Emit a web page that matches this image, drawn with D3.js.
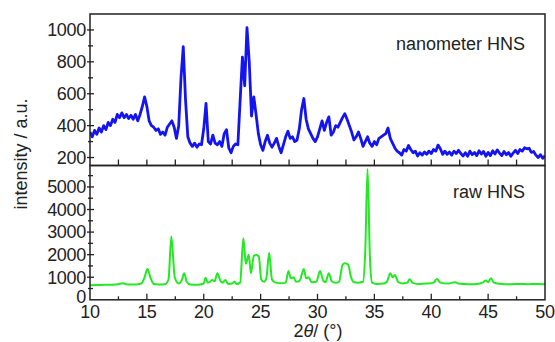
<!DOCTYPE html>
<html>
<head>
<meta charset="utf-8">
<script src="https://cdn.jsdelivr.net/npm/d3@7"></script>
<style>
  body { margin: 0; background: #fff; }
  text { font-family: "Liberation Sans", Arial, sans-serif; fill: #222; }
</style>
</head>
<body>
<script>
// nanometer HNS, sampled every 0.2 deg from 10 to 50
var nanoStart = 10, nanoStep = 0.2;
var nanoIntensity = [
  360, 330, 370, 345, 385, 360, 400, 375, 420, 400,
  440, 420, 470, 450, 480, 450, 470, 445, 465, 440,
  470, 430, 470, 520, 580, 520, 430, 400, 390, 370,
  380, 345, 360, 340, 390, 410, 430, 390, 320, 400,
  700, 895, 560, 330, 290, 270, 290, 265, 285, 280,
  380, 540, 300, 285, 340, 290, 280, 300, 270, 350,
  375, 260, 230, 270, 285, 280, 560, 830, 650, 1015,
  800, 460, 580, 470, 350, 280, 245, 300, 340, 290,
  265, 290, 320, 270, 230, 280, 330, 365, 320, 330,
  300, 310, 380, 500, 570, 440, 380, 350, 320, 300,
  330, 380, 430, 370, 420, 455, 340, 360, 400, 390,
  420, 450, 475, 440, 400, 360, 310, 330, 360, 320,
  270, 300, 330, 290, 270, 300, 280, 320, 330, 340,
  350, 385, 320, 290, 260, 240, 230, 215, 250, 240,
  275, 250, 230, 240, 210, 230, 215, 235, 220, 240,
  225, 250, 240, 278, 255, 220, 240, 220, 235, 215,
  240, 225, 245, 225, 210, 230, 208, 240, 218, 232,
  212, 242, 222, 238, 208, 232, 212, 242, 222, 248,
  228, 212, 238, 218, 232, 208, 228, 245, 225, 250,
  240, 262, 255, 258, 232, 238, 215, 200, 218, 195,
  212
];

// raw HNS
var rawAngle = [
  10.0, 11.0, 12.0, 12.5, 12.9, 13.3, 14.0, 14.5, 14.8, 15.05,
  15.3, 15.6, 16.0, 16.6, 16.9, 17.15, 17.45, 17.8, 18.1, 18.28,
  18.5, 18.8, 19.5, 20.0, 20.15, 20.35, 20.55, 20.75, 20.95, 21.2,
  21.45, 21.65, 21.9, 22.15, 22.5, 22.7, 22.9, 23.2, 23.48, 23.7,
  23.95, 24.15, 24.4, 24.65, 24.85, 25.05, 25.3, 25.5, 25.75, 26.0,
  26.3, 26.8, 27.2, 27.45, 27.65, 27.9, 28.1, 28.4, 28.8, 29.0,
  29.2, 29.5, 29.9, 30.22, 30.5, 30.7, 31.0, 31.25, 31.6, 31.9,
  32.2, 32.4, 32.7, 32.95, 33.2, 33.6, 34.0, 34.2, 34.4, 34.6,
  34.8, 35.2, 35.8, 36.1, 36.4, 36.6, 36.8, 37.1, 37.5, 37.9,
  38.1, 38.4, 39.0, 39.6, 40.2, 40.5, 40.8, 41.5, 42.1, 42.4,
  42.9, 43.5, 44.0, 44.5, 44.8, 45.0, 45.25, 45.5, 46.2, 47.0,
  47.8, 48.5, 49.2, 50.0
];
var rawIntensity = [
  650, 660, 670, 690, 730, 680, 680, 720, 1000, 1370,
  1000, 700, 680, 690, 900, 2800, 1000, 720, 900, 1180,
  800, 680, 670, 720, 980, 760, 800, 880, 820, 1180,
  850, 750, 880, 700, 720, 800, 700, 760, 2730, 1600,
  2000, 1180, 1950, 1990, 1900, 900, 800, 950, 2070, 900,
  760, 730, 750, 1280, 950, 1000, 800, 820, 1370, 950,
  1000, 780, 800, 1280, 850, 780, 1180, 820, 750, 800,
  1550, 1620, 1550, 1000, 780, 760, 800, 2200, 5800, 2000,
  760, 700, 720, 800, 1180, 1000, 1100, 780, 720, 760,
  910, 740, 700, 720, 760, 920, 760, 720, 780, 720,
  700, 690, 700, 760, 850, 780, 960, 760, 700, 690,
  700, 690, 700, 690
];

var xTicks = [10, 15, 20, 25, 30, 35, 40, 45, 50];
var xMinor = [12.5, 17.5, 22.5, 27.5, 32.5, 37.5, 42.5, 47.5];
var topTicks = [200, 400, 600, 800, 1000];
var topMinor = [300, 500, 700, 900];
var botTicks = [0, 1000, 2000, 3000, 4000, 5000];
var botMinor = [500, 1500, 2500, 3500, 4500, 5500];

var width = 555,
    height = 342,
    left = 90,
    right = 545,
    top1 = 14,
    split = 165.5,
    bottom = 299.8;

var svg = d3.select("body").append("svg")
    .attr("width", width)
    .attr("height", height);

var x = d3.scaleLinear().domain([10, 50]).range([left, right]);
var yTop = d3.scaleLinear().domain([150, 1100]).range([split, top1]);
var yBot = d3.scaleLinear().domain([0, 5950]).range([bottom, split]);

var nano = nanoIntensity.map(function(v, i) { return [nanoStart + i * nanoStep, v]; });
var raw = rawAngle.map(function(a, i) { return [a, rawIntensity[i]]; });

svg.append("clipPath").attr("id", "clipTop")
  .append("rect").attr("x", left).attr("y", top1).attr("width", right - left).attr("height", split - top1);
svg.append("clipPath").attr("id", "clipBot")
  .append("rect").attr("x", left).attr("y", split).attr("width", right - left).attr("height", bottom - split);

// curves
svg.append("path")
    .datum(nano)
    .attr("clip-path", "url(#clipTop)")
    .attr("fill", "none")
    .attr("stroke", "#1414f0")
    .attr("stroke-width", 2.8)
    .attr("stroke-linejoin", "round")
    .attr("d", d3.line().x(function(d) { return x(d[0]); }).y(function(d) { return yTop(d[1]); }));

svg.append("path")
    .datum(raw)
    .attr("clip-path", "url(#clipBot)")
    .attr("fill", "none")
    .attr("stroke", "#22ea22")
    .attr("stroke-width", 2)
    .attr("d", d3.line().curve(d3.curveMonotoneX)
        .x(function(d) { return x(d[0]); }).y(function(d) { return yBot(d[1]); }));

// frames
svg.append("rect").attr("x", left).attr("y", top1).attr("width", right - left).attr("height", split - top1)
    .attr("fill", "none").attr("stroke", "#222").attr("stroke-width", 1.5);
svg.append("rect").attr("x", left).attr("y", split).attr("width", right - left).attr("height", bottom - split)
    .attr("fill", "none").attr("stroke", "#222").attr("stroke-width", 1.5);

// ticks
function hTicks(vals, scale, x1, x2) {
  svg.append("g").selectAll("line").data(vals).enter().append("line")
    .attr("x1", x1).attr("x2", x2)
    .attr("y1", function(d) { return scale(d); }).attr("y2", function(d) { return scale(d); })
    .attr("stroke", "#222").attr("stroke-width", 1.3);
}
function vTicks(vals, y1, y2) {
  svg.append("g").selectAll("line").data(vals).enter().append("line")
    .attr("y1", y1).attr("y2", y2)
    .attr("x1", function(d) { return x(d); }).attr("x2", function(d) { return x(d); })
    .attr("stroke", "#222").attr("stroke-width", 1.3);
}
hTicks(topTicks, yTop, left - 3, left + 4);
hTicks(topMinor, yTop, left - 2, left + 3);
hTicks(botTicks.slice(1), yBot, left - 3, left + 4);
hTicks(botMinor, yBot, left - 2, left + 3);
vTicks(xTicks.slice(1, -1).concat(xMinor), split, split - 6);
vTicks(xTicks.slice(1, -1), bottom, bottom - 6);
vTicks(xMinor, bottom, bottom - 3.5);

// tick labels
svg.append("g").selectAll("text").data(topTicks).enter().append("text")
    .attr("x", left - 4).attr("y", function(d) { return yTop(d); })
    .attr("dy", "0.35em").attr("text-anchor", "end")
    .style("font-size", "18px").style("letter-spacing", "-0.3px")
    .text(function(d) { return d; });

svg.append("g").selectAll("text").data(botTicks).enter().append("text")
    .attr("x", left - 4).attr("y", function(d) { return d == 0 ? yBot(d) - 3 : yBot(d); })
    .attr("dy", "0.35em").attr("text-anchor", "end")
    .style("font-size", "18px").style("letter-spacing", "-0.3px")
    .text(function(d) { return d; });

svg.append("g").selectAll("text").data(xTicks).enter().append("text")
    .attr("x", function(d) { return x(d); }).attr("y", 318)
    .attr("text-anchor", "middle")
    .style("font-size", "18px").style("letter-spacing", "-0.3px")
    .text(function(d) { return d; });

// titles
svg.append("text")
    .attr("transform", "translate(27,154) rotate(-90)")
    .attr("text-anchor", "middle")
    .style("font-size", "18px")
    .text("intensity / a.u.");

var xt = svg.append("text")
    .attr("x", 318).attr("y", 337)
    .attr("text-anchor", "middle")
    .style("font-size", "18px");
xt.append("tspan").text("2");
xt.append("tspan").style("font-style", "italic").text("θ");
xt.append("tspan").text("/ (°)");

svg.append("text").attr("x", 525).attr("y", 50).attr("text-anchor", "end")
    .style("font-size", "18px").text("nanometer HNS");
svg.append("text").attr("x", 525).attr("y", 198).attr("text-anchor", "end")
    .style("font-size", "18px").text("raw HNS");
</script>
</body>
</html>
